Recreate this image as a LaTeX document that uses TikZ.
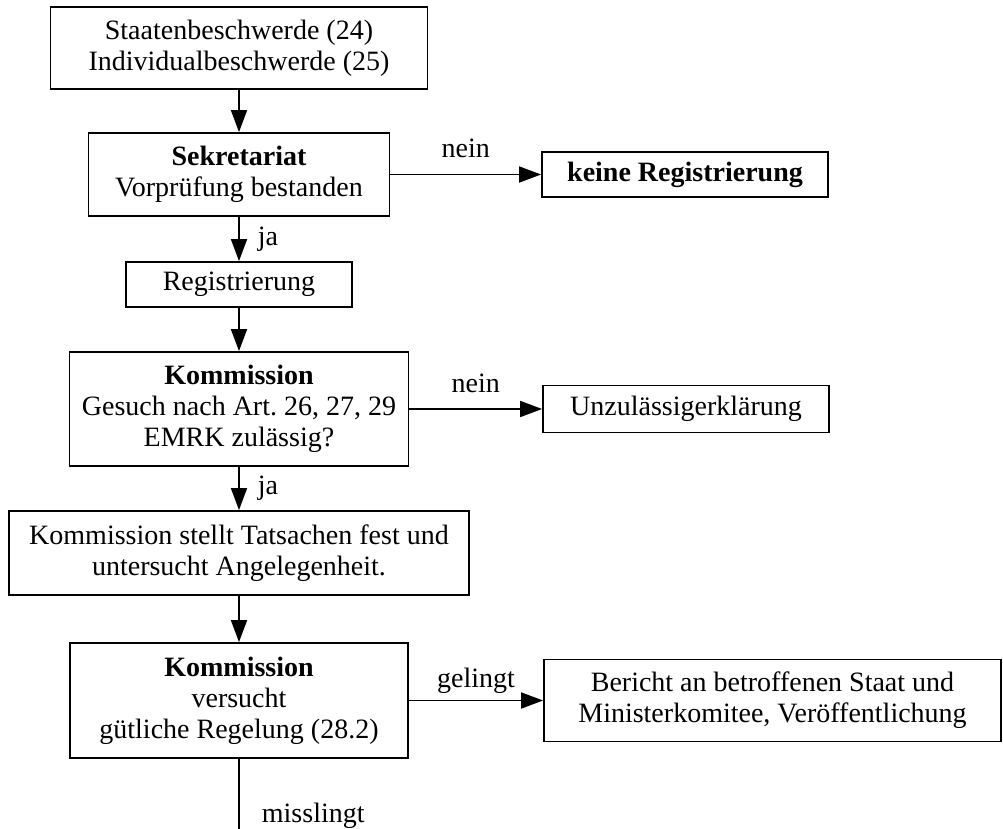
\documentclass[tikz,border=0pt]{standalone}
\usepackage{fontspec}
\setmainfont{Liberation Serif}
\usetikzlibrary{arrows.meta}

\begin{document}
\begin{tikzpicture}[x=0.5pt,y=-0.5pt,
  emrkbox/.style={draw,line width=0.9pt,inner sep=0pt,align=center,
    font=\fontsize{14}{15.5}\selectfont},
  emrkarrow/.style={-{Triangle[length=11pt,width=8pt]},line width=0.9pt},
  emrklabel/.style={inner sep=0pt,font=\fontsize{14}{15.5}\selectfont}
]
  \useasboundingbox (0,0) rectangle (1003,829);
  % Main column
  \node[emrkbox,minimum width=188.5pt,minimum height=41pt] (src) at (239,48) {
    Staatenbeschwerde (24)\\Individualbeschwerde (25)};
  \node[emrkbox,minimum width=150.5pt,minimum height=41.5pt] (sekr) at (239,174.5) {
    \textbf{Sekretariat}\\Vorprüfung bestanden};
  \node[emrkbox,minimum width=113pt,minimum height=22.5pt] (reg) at (239,284.5) {Registrierung};
  \node[emrkbox,minimum width=169.5pt,minimum height=57pt] (komm) at (239,409) {
    \textbf{Kommission}\\Gesuch nach Art.~26, 27, 29\\EMRK zulässig?};
  \node[emrkbox,minimum width=230pt,minimum height=42pt] (tats) at (239,553) {
    Kommission stellt Tatsachen fest und\\untersucht Angelegenheit.};
  \node[emrkbox,minimum width=169pt,minimum height=57.5pt] (guet) at (239,700.5) {
    \textbf{Kommission}\\versucht\\gütliche Regelung (28.2)};
  \coordinate (missend) at (239,829);
  % Side boxes
  \node[emrkbox,minimum width=143pt,minimum height=22.5pt] (keine) at (685,174.5) {
    \textbf{keine Registrierung}};
  \node[emrkbox,minimum width=143pt,minimum height=23.5pt] (unzul) at (686,409) {Unzulässigerklärung};
  \node[emrkbox,minimum width=228.5pt,minimum height=41pt] (bericht) at (772.5,700.5) {
    Bericht an betroffenen Staat und\\Ministerkomitee, Veröffentlichung};
  % Arrows
  \draw[emrkarrow] (src.south) -- (sekr.north);
  \draw[emrkarrow] (sekr.south) -- node[emrklabel,right=9pt] {ja} (reg.north);
  \draw[emrkarrow] (reg.south) -- (komm.north);
  \draw[emrkarrow] (komm.south) -- node[emrklabel,right=9pt] {ja} (tats.north);
  \draw[emrkarrow] (tats.south) -- (guet.north);
  \draw[line width=0.9pt] (guet.south) -- node[emrklabel,pos=0.81,right=11pt] {misslingt} (missend);
  \draw[emrkarrow] (sekr.east) -- node[emrklabel,above=8pt,text depth=0pt] {nein} (keine.west);
  \draw[emrkarrow] (komm.east) -- node[emrklabel,above=8pt,text depth=0pt] {nein} (unzul.west);
  \draw[emrkarrow] (guet.east) -- node[emrklabel,above=6pt,text depth=0pt] {gelingt} (bericht.west);
\end{tikzpicture}
\end{document}
